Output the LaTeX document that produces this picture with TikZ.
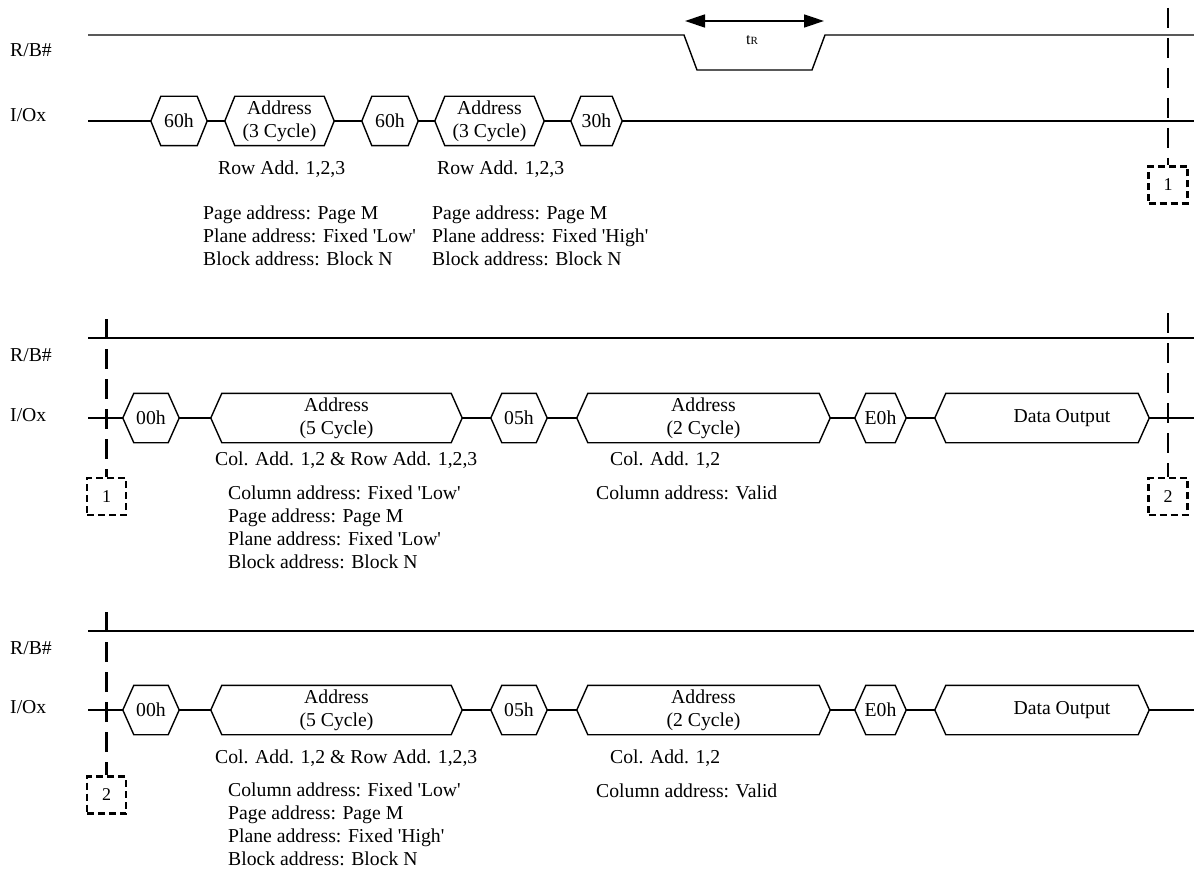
\documentclass[tikz,border=0pt]{standalone}
\usepackage{fontspec}
\setmainfont{Liberation Serif}
\usetikzlibrary{arrows.meta}
\newcommand\sigfont{\fontsize{19.7}{23}\selectfont}
\newcommand\sq{\textquotesingle}
\def\hs{10}
\newcommand\hexnode[5]{%
  \node[hexbox, minimum width=#4pt] (#1) at (#2,#3) {#5};
  \draw[sig] (#1.west) -- ([xshift=\hs pt]#1.north west) -- ([xshift=-\hs pt]#1.north east)
    -- (#1.east) -- ([xshift=-\hs pt]#1.south east) -- ([xshift=\hs pt]#1.south west) -- cycle;
}
\begin{document}
\begin{tikzpicture}[x=1pt,y=-1pt,
  every node/.style={font=\sigfont, inner sep=0pt},
  sig/.style={line width=1.4pt},
  hexbox/.style={minimum height=49pt, align=center},
  marker/.style={line width=2.6pt, dash pattern=on 20pt off 10pt},
  dbox/.style={draw, line width=2.6pt, dash pattern=on 7pt off 4pt,
    minimum width=39pt, minimum height=37pt, font=\fontsize{18}{20}\selectfont},
  lbl/.style={anchor=west},
  note/.style={anchor=west, align=left},
  twoway/.style={{Triangle[length=20pt,width=13pt]}-{Triangle[length=20pt,width=13pt]}}
]
\useasboundingbox (0,0) rectangle (1194,869);

% ---------------- Section 1 ----------------
\node[lbl] (rb1) at (10,50) {R/B\#};
\node[lbl] (io1) at (10,115) {I/Ox};
\coordinate (r1s) at (88,35);
\coordinate (r1a) at (684,35);
\coordinate (r1b) at (697,70);
\coordinate (r1c) at (812,70);
\coordinate (r1d) at (825,35);
\coordinate (r1e) at (1194,35);
\draw[sig] (r1s) -- (r1a) -- (r1b) -- (r1c) -- (r1d) -- (r1e);
\coordinate (tra) at (685,21);
\coordinate (trb) at (824,21);
\draw[sig, twoway] (tra) -- (trb);
\node (tr) at (752,40) {\fontsize{16}{16}\selectfont t{\fontsize{11}{11}\selectfont R}};

\def\hs{10}
\hexnode{a60}{179}{121}{56}{60h}
\hexnode{aad1}{279.5}{121}{109}{Address\\(3 Cycle)}
\hexnode{b60}{390}{121}{56}{60h}
\hexnode{aad2}{489.5}{121}{109}{Address\\(3 Cycle)}
\hexnode{c30}{596.5}{121}{51}{30h}
\coordinate (io1s) at (88,121);
\coordinate (io1e) at (1194,121);
\draw[sig] (io1s) -- (a60.west) (a60.east) -- (aad1.west) (aad1.east) -- (b60.west)
  (b60.east) -- (aad2.west) (aad2.east) -- (c30.west) (c30.east) -- (io1e);

\node[note] (ra1) at (218,169) {Row Add. 1,2,3};
\node[note] (ra2) at (437,169) {Row Add. 1,2,3};
\node[note] (pa1) at (203,236) {Page address: Page M\\Plane address: Fixed \sq Low\sq\\Block address: Block N};
\node[note] (pa2) at (432,236) {Page address: Page M\\Plane address: Fixed \sq High\sq\\Block address: Block N};

\node[dbox] (m1r) at (1168,185) {1};
\coordinate (m1t) at (1168,8);
\draw[marker] (m1t) -- (m1r.north);

% ---------------- Section 2 ----------------
\node[lbl] (rb2) at (10,355) {R/B\#};
\node[lbl] (io2) at (10,415) {I/Ox};
\coordinate (r2s) at (88,338);
\coordinate (r2e) at (1194,338);
\draw[sig] (r2s) -- (r2e);

\def\hs{11}
\hexnode{d00}{151}{418}{56}{00h}
\hexnode{dad5}{336.5}{418}{251}{Address\\(5 Cycle)}
\hexnode{d05}{519}{418}{56}{05h}
\hexnode{dad2}{703.5}{418}{253}{Address\\(2 Cycle)}
\hexnode{de0}{880.5}{418}{51}{E0h}
\hexnode{ddo}{1042}{418}{214}{\hspace*{40pt}Data Output}
\coordinate (io2s) at (88,418);
\coordinate (io2e) at (1194,418);
\draw[sig] (io2s) -- (d00.west) (d00.east) -- (dad5.west) (dad5.east) -- (d05.west)
  (d05.east) -- (dad2.west) (dad2.east) -- (de0.west) (de0.east) -- (ddo.west)
  (ddo.east) -- (io2e);

\node[note] (ca2) at (215,460) {Col. Add. 1,2 \& Row Add. 1,2,3};
\node[note] (cb2) at (228,527) {Column address: Fixed \sq Low\sq\\Page address: Page M\\Plane address: Fixed \sq Low\sq\\Block address: Block N};
\node[note] (cc2) at (610,460) {Col. Add. 1,2};
\node[note] (cd2) at (596,493) {Column address: Valid};

\node[dbox] (m1l) at (106.5,496.5) {1};
\coordinate (m1lt) at (106.5,319);
\draw[marker] (m1lt) -- (m1l.north);
\node[dbox] (m2r) at (1168,496.5) {2};
\coordinate (m2rt) at (1168,313);
\draw[marker] (m2rt) -- (m2r.north);

% ---------------- Section 3 ----------------
\node[lbl] (rb3) at (10,648) {R/B\#};
\node[lbl] (io3) at (10,707) {I/Ox};
\coordinate (r3s) at (88,631);
\coordinate (r3e) at (1194,631);
\draw[sig] (r3s) -- (r3e);

\hexnode{e00}{151}{710}{56}{00h}
\hexnode{ead5}{336.5}{710}{251}{Address\\(5 Cycle)}
\hexnode{e05}{519}{710}{56}{05h}
\hexnode{ead2}{703.5}{710}{253}{Address\\(2 Cycle)}
\hexnode{ee0}{880.5}{710}{51}{E0h}
\hexnode{edo}{1042}{710}{214}{\hspace*{40pt}Data Output}
\coordinate (io3s) at (88,710);
\coordinate (io3e) at (1194,710);
\draw[sig] (io3s) -- (e00.west) (e00.east) -- (ead5.west) (ead5.east) -- (e05.west)
  (e05.east) -- (ead2.west) (ead2.east) -- (ee0.west) (ee0.east) -- (edo.west)
  (edo.east) -- (io3e);

\node[note] (ca3) at (215,758) {Col. Add. 1,2 \& Row Add. 1,2,3};
\node[note] (cb3) at (228,824) {Column address: Fixed \sq Low\sq\\Page address: Page M\\Plane address: Fixed \sq High\sq\\Block address: Block N};
\node[note] (cc3) at (610,758) {Col. Add. 1,2};
\node[note] (cd3) at (596,791) {Column address: Valid};

\node[dbox] (m2l) at (106.5,795) {2};
\coordinate (m2lt) at (106.5,612);
\draw[marker] (m2lt) -- (m2l.north);
\end{tikzpicture}
\end{document}
